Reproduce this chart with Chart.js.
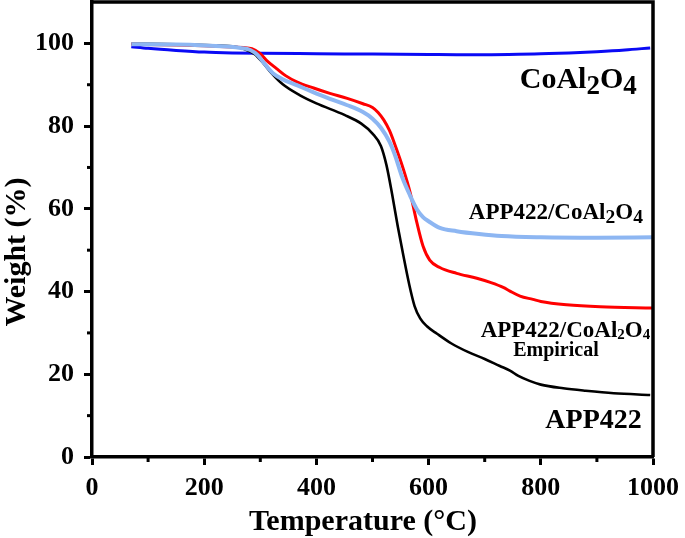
<!DOCTYPE html>
<html>
<head>
<meta charset="utf-8">
<script src="https://cdn.jsdelivr.net/npm/chart.js@4.4.0/dist/chart.umd.min.js"></script>
<style>
  html, body { margin: 0; padding: 0; background: #fff; }
  #wrap { width: 685px; height: 538px; }
</style>
</head>
<body>
<div id="wrap"><canvas id="tga"></canvas></div>
<script>
const xTicks = [0, 200, 400, 600, 800, 1000];
const yTicks = [0, 20, 40, 60, 80, 100];

const coal2o4Temp = [70, 100, 150, 200, 250, 300, 400, 500, 600, 650, 700, 760, 800, 850, 900, 950, 995];
const coal2o4Weight = [99.2, 98.8, 98.3, 97.9, 97.7, 97.6, 97.5, 97.4, 97.3, 97.25, 97.25, 97.35, 97.5, 97.7, 98.0, 98.4, 98.9];

const app422Temp = [70, 150, 200, 250, 270, 290, 305, 320, 340, 370, 400, 450, 480, 500, 515, 525, 535, 545, 555, 565, 575, 585, 597, 615, 640, 670, 700, 727, 745, 760, 780, 800, 840, 880, 930, 995];
const app422Weight = [99.9, 99.8, 99.6, 99.3, 98.7, 97.4, 95.3, 92.8, 90.1, 87.5, 85.5, 82.7, 80.6, 78.2, 75.2, 70.5, 63.5, 55.8, 48.7, 42.0, 36.5, 33.5, 31.6, 29.8, 27.5, 25.4, 23.7, 22.0, 20.9, 19.6, 18.4, 17.5, 16.6, 16.0, 15.4, 15.0];

const empTemp = [70, 150, 200, 250, 270, 285, 300, 311, 329, 345, 365, 395, 424, 455, 483, 500, 510, 520, 530, 540, 555, 567, 579, 590, 602, 620, 650, 686, 710, 733, 745, 763, 786, 800, 846, 906, 1000];
const empWeight = [99.8, 99.6, 99.4, 99.1, 99.0, 98.7, 97.5, 95.9, 93.9, 92.2, 90.7, 89.2, 87.9, 86.7, 85.4, 84.5, 83.3, 81.5, 79.0, 75.5, 69.6, 64.0, 56.7, 51.0, 47.6, 45.8, 44.4, 43.2, 42.2, 41.0, 40.1, 38.9, 38.1, 37.6, 36.8, 36.3, 36.0];

const mixTemp = [70, 150, 200, 246, 265, 282, 295, 305, 323, 340, 365, 394, 424, 454, 483, 500, 515, 530, 540, 552, 567, 579, 590, 600, 620, 650, 690, 730, 800, 900, 1000];
const mixWeight = [99.8, 99.7, 99.5, 99.2, 98.9, 98.4, 97.2, 95.5, 92.7, 91.3, 89.9, 88.2, 86.6, 85.1, 83.4, 81.8, 79.6, 76.3, 73.0, 68.0, 63.2, 59.9, 58.0, 57.0, 55.4, 54.6, 53.9, 53.4, 53.1, 53.0, 53.1];

const xMinor = [100, 300, 500, 700, 900];
const yMinor = [10, 30, 50, 70, 90];

function pts(xs, ys) {
  return xs.map((x, i) => ({ x: x, y: ys[i] }));
}

const serif = "'Liberation Serif', 'Times New Roman', serif";

// label text: pieces with optional subscript
function drawRich(ctx, parts, xRight, yBase, size, subScale, subDrop) {
  let total = 0;
  parts.forEach((p) => {
    ctx.font = `bold ${p.sub ? size * subScale : size}px ${serif}`;
    total += ctx.measureText(p.t).width;
  });
  let x = xRight - total;
  parts.forEach((p) => {
    ctx.font = `bold ${p.sub ? size * subScale : size}px ${serif}`;
    ctx.fillText(p.t, x, yBase + (p.sub ? subDrop : 0));
    x += ctx.measureText(p.t).width;
  });
}

const decorPlugin = {
  id: "decor",
  afterDraw(chart) {
    const ctx = chart.ctx;
    const area = chart.chartArea;
    const xs = chart.scales.x;
    const ys = chart.scales.y;
    ctx.save();
    ctx.strokeStyle = "#000";
    ctx.lineWidth = 3.5;
    ctx.beginPath();
    ctx.moveTo(area.left, area.top);
    ctx.lineTo(area.right, area.top);
    ctx.lineTo(area.right, area.bottom);
    ctx.stroke();

    ctx.lineWidth = 3;
    xMinor.forEach((v) => {
      const px = xs.getPixelForValue(v);
      ctx.beginPath();
      ctx.moveTo(px, area.bottom);
      ctx.lineTo(px, area.bottom + 5);
      ctx.stroke();
    });
    yMinor.forEach((v) => {
      const py = ys.getPixelForValue(v);
      ctx.beginPath();
      ctx.moveTo(area.left, py);
      ctx.lineTo(area.left - 5, py);
      ctx.stroke();
    });

    ctx.fillStyle = "#000";
    ctx.textBaseline = "alphabetic";
    ctx.textAlign = "left";
    drawRich(ctx, [{ t: "CoAl" }, { t: "2", sub: true }, { t: "O" }, { t: "4", sub: true }],
      xs.getPixelForValue(971), ys.getPixelForValue(89.1), 30, 0.9, 6);
    drawRich(ctx, [{ t: "APP422/CoAl" }, { t: "2", sub: true }, { t: "O" }, { t: "4", sub: true }],
      xs.getPixelForValue(982), ys.getPixelForValue(57.5), 23, 0.85, 4);
    drawRich(ctx, [{ t: "APP422/CoAl" }, { t: "2", sub: true }, { t: "O" }, { t: "4", sub: true }],
      xs.getPixelForValue(995), ys.getPixelForValue(29.1), 23, 0.65, 2);
    drawRich(ctx, [{ t: "APP422" }],
      xs.getPixelForValue(980), ys.getPixelForValue(7.0), 28, 1, 0);

    ctx.font = `bold 20px ${serif}`;
    ctx.textAlign = "center";
    ctx.fillText("Empirical", xs.getPixelForValue(827), ys.getPixelForValue(24.4));

    // axis titles
    ctx.font = `bold 30px ${serif}`;
    ctx.textAlign = "center";
    ctx.fillText("Temperature (°C)", 363, 530);
    ctx.save();
    ctx.translate(25, 252);
    ctx.rotate(-Math.PI / 2);
    ctx.fillText("Weight (%)", 0, 0);
    ctx.restore();
    ctx.restore();
  },
};

new Chart(document.getElementById("tga"), {
  type: "line",
  data: {
    datasets: [
      {
        label: "CoAl2O4",
        data: pts(coal2o4Temp, coal2o4Weight),
        borderColor: "#0A0AF5",
        borderWidth: 3,
        order: 4,
      },
      {
        label: "APP422",
        data: pts(app422Temp, app422Weight),
        borderColor: "#000000",
        borderWidth: 2.6,
        order: 3,
      },
      {
        label: "APP422/CoAl2O4 Empirical",
        data: pts(empTemp, empWeight),
        borderColor: "#FF0000",
        borderWidth: 3,
        order: 2,
      },
      {
        label: "APP422/CoAl2O4",
        data: pts(mixTemp, mixWeight),
        borderColor: "#8DB6F2",
        borderWidth: 4,
        order: 1,
      },
    ],
  },
  options: {
    responsive: true,
    maintainAspectRatio: false,
    animation: false,
    elements: {
      point: { radius: 0 },
      line: { cubicInterpolationMode: "monotone", fill: false },
    },
    layout: { padding: { top: 2, right: 32, left: 0, bottom: 0 } },
    scales: {
      x: {
        type: "linear",
        min: 0,
        max: 1000,
        afterBuildTicks: (s) => { s.ticks = xTicks.map((v) => ({ value: v })); },
        afterFit: (s) => { s.height = 81; s.paddingLeft = 0; s.paddingRight = 0; },
        border: { display: true, color: "#000", width: 3.5 },
        grid: { drawOnChartArea: false, drawTicks: true, tickLength: 8, tickWidth: 3, tickColor: "#000" },
        ticks: {
          color: "#000", padding: 8, maxRotation: 0,
          font: { family: serif, size: 26, weight: "bold" },
          callback: (v) => String(v),
        },
      },
      y: {
        type: "linear",
        min: 0,
        max: 110,
        afterBuildTicks: (s) => { s.ticks = yTicks.map((v) => ({ value: v })); },
        afterFit: (s) => { s.width = 92; s.paddingTop = 0; s.paddingBottom = 0; },
        border: { display: true, color: "#000", width: 3.5 },
        grid: { drawOnChartArea: false, drawTicks: true, tickLength: 8, tickWidth: 3, tickColor: "#000" },
        ticks: { color: "#000", padding: 10, font: { family: serif, size: 26, weight: "bold" } },
      },
    },
    plugins: {
      legend: { display: false },
      tooltip: { enabled: false },
    },
  },
  plugins: [decorPlugin],
});
</script>
</body>
</html>
